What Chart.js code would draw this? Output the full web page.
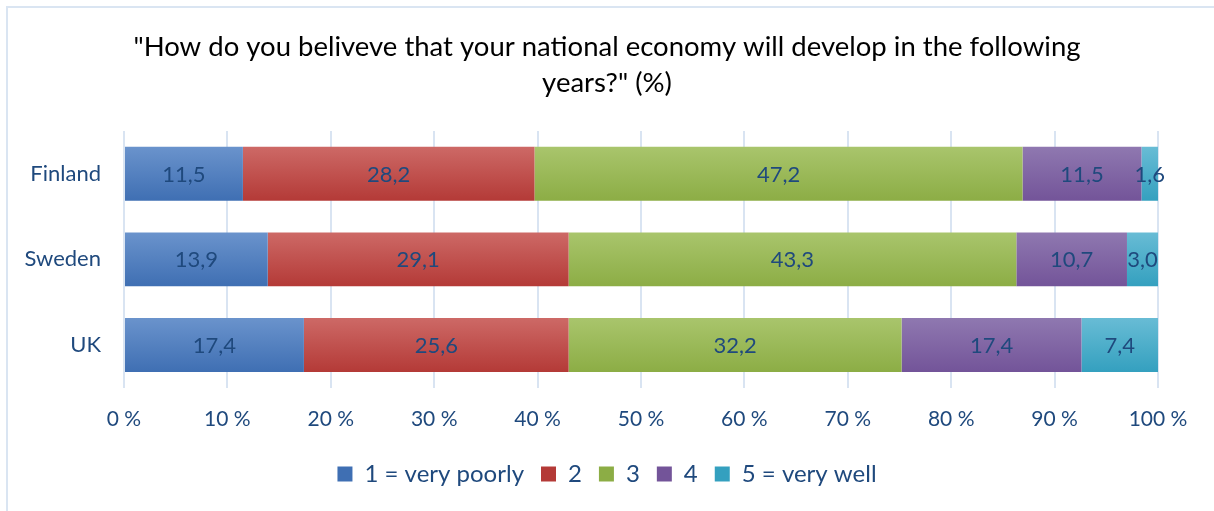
<!DOCTYPE html>
<html>
<head>
<meta charset="utf-8">
<script src="https://cdn.jsdelivr.net/npm/chart.js@4"></script>
<style>
  html, body { margin: 0; padding: 0; background: #fff; overflow: hidden; }
  #wrap { position: relative; width: 1214px; height: 511px; }
  #barChart { display: block; }
  #frame {
    position: absolute; left: 6px; top: 6px; width: 1220px; height: 520px;
    border-left: 2px solid #dae5f2; border-top: 2px solid #dae5f2;
    pointer-events: none;
  }
</style>
</head>
<body>
<div id="wrap">
  <canvas id="barChart" width="1214" height="511"></canvas>
  <div id="frame"></div>
</div>
<script>
const countries = ['Finland', 'Sweden', 'UK'];
const answerLabels = ['1 = very poorly', '2', '3', '4', '5 = very well'];
const veryPoorly = [11.5, 13.9, 17.4];
const answer2 = [28.2, 29.1, 25.6];
const answer3 = [47.2, 43.3, 32.2];
const answer4 = [11.5, 10.7, 17.4];
const veryWell = [1.6, 3.0, 7.4];
const tickValues = [0, 10, 20, 30, 40, 50, 60, 70, 80, 90, 100];

// top / bottom colours of each bar gradient
const shades = [
    ['#6a93cc', '#3f6fb3'],
    ['#cd6966', '#b43a37'],
    ['#a9c56c', '#8cad45'],
    ['#8f78b0', '#735499'],
    ['#68bcd5', '#34a0bf']
];
const textBlue = '#1f497d';
const fontFamily = 'Lato, "Noto Sans", sans-serif';

const CAT_PCT = 1.0;
const BAR_PCT = 0.63;

function barGradient(i) {
    return function(ctx) {
        const chart = ctx.chart;
        const y = chart.scales.y;
        if (!y || ctx.type !== 'data') return shades[i][0];
        const center = y.getPixelForValue(ctx.dataIndex);
        const half = (y.height / countries.length) * CAT_PCT * BAR_PCT / 2;
        const g = chart.ctx.createLinearGradient(0, center - half, 0, center + half);
        g.addColorStop(0, shades[i][0]);
        g.addColorStop(1, shades[i][1]);
        return g;
    };
}

// value labels in the middle of each segment
const valueLabels = {
    id: 'valueLabels',
    afterDatasetsDraw(chart) {
        const c = chart.ctx;
        c.save();
        c.font = '22px ' + fontFamily;
        c.fillStyle = textBlue;
        c.textAlign = 'center';
        c.textBaseline = 'middle';
        chart.data.datasets.forEach(function(ds, di) {
            chart.getDatasetMeta(di).data.forEach(function(bar, i) {
                const mid = (bar.x + bar.base) / 2;
                c.fillText(ds.data[i].toFixed(1).replace('.', ','), mid, bar.y + 1);
            });
        });
        c.restore();
    }
};

const seriesValues = [veryPoorly, answer2, answer3, answer4, veryWell];

new Chart(document.getElementById('barChart').getContext('2d'), {
    type: 'bar',
    data: {
        labels: countries,
        datasets: seriesValues.map(function(values, i) {
            return {
                label: answerLabels[i],
                data: values,
                backgroundColor: barGradient(i),
                borderWidth: 0,
                categoryPercentage: CAT_PCT,
                barPercentage: BAR_PCT
            };
        })
    },
    options: {
        indexAxis: 'y',
        responsive: false,
        animation: false,
        layout: { padding: { left: 0, right: 0, top: 0, bottom: 15 } },
        scales: {
            x: {
                stacked: true,
                min: 0,
                max: 100,
                afterBuildTicks(scale) {
                    scale.ticks = tickValues.map(v => ({ value: v }));
                },
                afterFit(scale) {
                    scale.height -= 6;
                    scale.paddingRight = 56;
                },
                grid: { color: '#d9e4f2', lineWidth: 2, drawTicks: false },
                border: { display: false },
                ticks: {
                    padding: 19,
                    color: textBlue,
                    font: { family: fontFamily, size: 21 },
                    callback: v => v + ' %'
                }
            },
            y: {
                stacked: true,
                grid: { display: false, drawTicks: false },
                border: { display: false },
                afterFit(scale) { scale.width = 124; },
                ticks: {
                    padding: 23,
                    color: textBlue,
                    font: { family: fontFamily, size: 22 }
                }
            }
        },
        plugins: {
            title: {
                display: true,
                text: ['"How do you beliveve that your national economy will develop in the following', 'years?" (%)'],
                color: '#000',
                font: { family: fontFamily, size: 27.5, weight: 'normal', lineHeight: 36 / 27.5 },
                padding: { top: 29, bottom: 30 }
            },
            legend: {
                position: 'bottom',
                labels: {
                    color: textBlue,
                    boxWidth: 15,
                    boxHeight: 15,
                    padding: 17,
                    font: { family: fontFamily, size: 24 },
                    generateLabels(chart) {
                        return answerLabels.map(function(text, i) {
                            return {
                                text: text,
                                fillStyle: shades[i][1],
                                strokeStyle: shades[i][1],
                                lineWidth: 0,
                                datasetIndex: i,
                                fontColor: textBlue
                            };
                        });
                    }
                }
            },
            tooltip: { enabled: false }
        }
    },
    plugins: [valueLabels]
});
</script>
</body>
</html>
